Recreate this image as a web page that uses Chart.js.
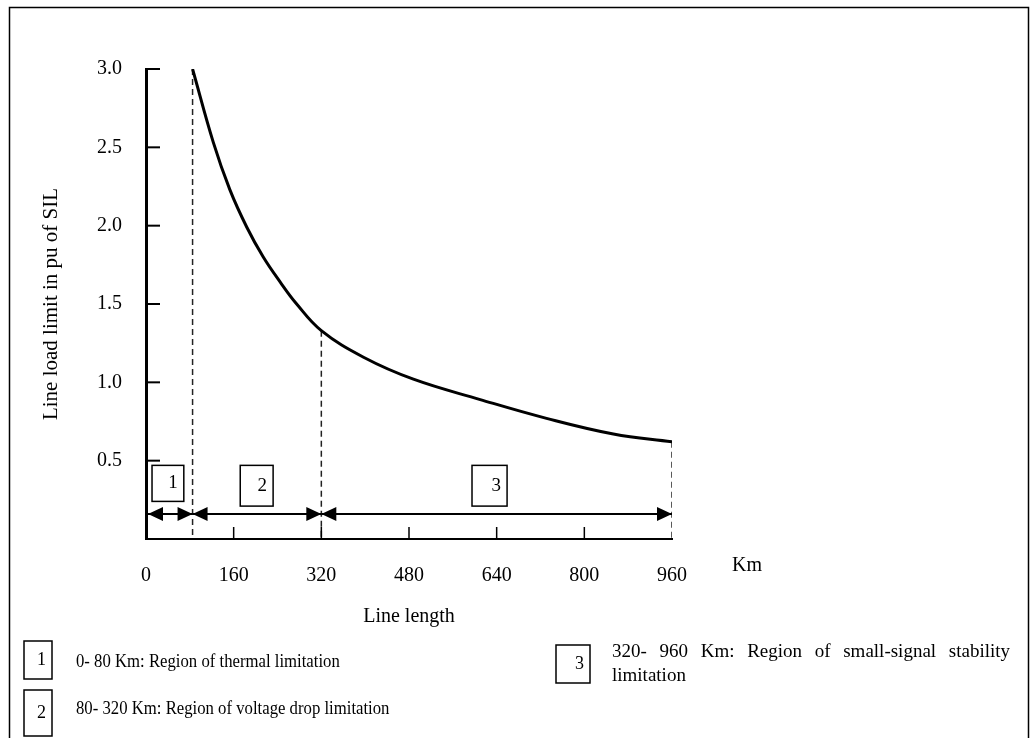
<!DOCTYPE html>
<html>
<head>
<meta charset="utf-8">
<script src="https://cdn.jsdelivr.net/npm/chart.js@4.4.0/dist/chart.umd.min.js"></script>
<style>
  html, body { margin: 0; padding: 0; background: #fff; }
</style>
</head>
<body>
<canvas id="c" width="1030" height="738"></canvas>
<script>
// values
const lengthKm = [85, 123, 153, 184, 214, 245, 275, 320, 397, 488, 610, 731, 853, 960];
const loadLimit = [3.0, 2.53, 2.23, 1.99, 1.80, 1.64, 1.50, 1.33, 1.16, 1.02, 0.89, 0.77, 0.67, 0.62];
const xTicks = [0, 160, 320, 480, 640, 800, 960];
const yTicks = [0.5, 1.0, 1.5, 2.0, 2.5, 3.0];
const regionBounds = [0, 85, 320, 960];
const regionIds = ["1", "2", "3"];
const regionText = [
  ["0- 80 Km: Region of thermal limitation"],
  ["80- 320 Km: Region of voltage drop limitation"],
  ["320- 960 Km: Region of small-signal stability", "limitation"],
];

const serif = "'Liberation Serif', 'Times New Roman', serif";

// dashed drop lines at the region boundaries, down from the curve
const dropLines = regionBounds.slice(1).map(b => {
  const i = lengthKm.indexOf(b);
  return {
    data: [{ x: b, y: loadLimit[i] }, { x: b, y: 0 }],
    borderColor: "#222",
    borderWidth: 1.5,
    borderDash: [6, 4],
    pointRadius: 0,
    tension: 0,
    fill: false,
  };
});

// where the annotation boxes sit (km / pu)
const boxSpots = [
  { x0: 11, x1: 69, y0: 0.24, y1: 0.47 },
  { x0: 172, x1: 232, y0: 0.21, y1: 0.47 },
  { x0: 595, x1: 659, y0: 0.21, y1: 0.47 },
];

function arrowHead(ctx, tipX, tipY, dir) {
  ctx.beginPath();
  ctx.moveTo(tipX, tipY);
  ctx.lineTo(tipX - dir * 15, tipY - 7);
  ctx.lineTo(tipX - dir * 15, tipY + 7);
  ctx.closePath();
  ctx.fill();
}

function numBox(ctx, l, t, r, b, txt, size) {
  ctx.lineWidth = 1.5;
  ctx.strokeRect(l, t, r - l, b - t);
  ctx.font = size + "px " + serif;
  ctx.textAlign = "right";
  ctx.textBaseline = "middle";
  ctx.fillText(txt, r - 6, (t + b) / 2);
}

// narrow text, the key in the figure is set a bit condensed
function squeezed(ctx, txt, x0, yy, k) {
  ctx.save();
  ctx.translate(x0, yy);
  ctx.scale(k, 1);
  ctx.fillText(txt, 0, 0);
  ctx.restore();
}

// spread the words of a line so it fills the given width
function justified(ctx, txt, x0, yy, width) {
  const words = txt.split(" ");
  const used = words.reduce((s, w) => s + ctx.measureText(w).width, 0);
  const gap = (width - used) / (words.length - 1);
  let cx = x0;
  words.forEach(w => {
    ctx.fillText(w, cx, yy);
    cx += ctx.measureText(w).width + gap;
  });
}

const extras = {
  id: "extras",
  afterDraw(chart) {
    const { ctx, scales: { x, y } } = chart;
    ctx.save();
    ctx.strokeStyle = "#000";
    ctx.fillStyle = "#000";

    // inward ticks on the y axis
    ctx.lineWidth = 2;
    yTicks.forEach(v => {
      const py = y.getPixelForValue(v);
      ctx.beginPath();
      ctx.moveTo(x.left, py);
      ctx.lineTo(x.left + 14, py);
      ctx.stroke();
    });
    // upward ticks on the x axis
    ctx.lineWidth = 1.5;
    xTicks.slice(1, -1).forEach(v => {
      const px = x.getPixelForValue(v);
      ctx.beginPath();
      ctx.moveTo(px, y.bottom);
      ctx.lineTo(px, y.bottom - 12);
      ctx.stroke();
    });

    // double arrows for the three regions
    const ay = y.getPixelForValue(0.16);
    ctx.lineWidth = 2;
    for (let i = 0; i < 3; i++) {
      const a = x.getPixelForValue(regionBounds[i]) + (i === 0 ? 2 : 0);
      const b = x.getPixelForValue(regionBounds[i + 1]);
      ctx.beginPath();
      ctx.moveTo(a, ay);
      ctx.lineTo(b, ay);
      ctx.stroke();
      arrowHead(ctx, a, ay, -1);
      arrowHead(ctx, b, ay, 1);
    }

    // numbered boxes above the arrows
    boxSpots.forEach((s, i) => {
      numBox(ctx, x.getPixelForValue(s.x0), y.getPixelForValue(s.y1),
        x.getPixelForValue(s.x1), y.getPixelForValue(s.y0), regionIds[i], 19);
    });

    // unit next to the x axis
    ctx.font = "20px " + serif;
    ctx.textAlign = "center";
    ctx.textBaseline = "middle";
    ctx.fillText("Km", x.right + 75, y.bottom + 27);

    // key under the chart
    numBox(ctx, 24, 641, 52, 679, regionIds[0], 18);
    numBox(ctx, 24, 690, 52, 736, regionIds[1], 18);
    numBox(ctx, 556, 645, 590, 683, regionIds[2], 18);
    ctx.font = "19px " + serif;
    ctx.textAlign = "left";
    ctx.textBaseline = "middle";
    squeezed(ctx, regionText[0][0], 76, 662, 0.88);
    squeezed(ctx, regionText[1][0], 76, 709, 0.88);
    justified(ctx, regionText[2][0], 612, 652, 398);
    ctx.fillText(regionText[2][1], 612, 676);

    // frame around the figure
    ctx.lineWidth = 1.5;
    ctx.strokeRect(9.5, 7.5, 1019, 740);
    ctx.restore();
  },
};

new Chart(document.getElementById("c").getContext("2d"), {
  type: "line",
  data: {
    datasets: [
      {
        data: lengthKm.map((v, i) => ({ x: v, y: loadLimit[i] })),
        borderColor: "#000",
        borderWidth: 3,
        pointRadius: 0,
        tension: 0.4,
        fill: false,
      },
      ...dropLines,
    ],
  },
  options: {
    responsive: false,
    animation: false,
    devicePixelRatio: 1,
    layout: { padding: { left: 9, top: 69, right: 358, bottom: 109 } },
    plugins: { legend: { display: false }, tooltip: { enabled: false } },
    scales: {
      x: {
        type: "linear",
        min: 0,
        max: 960,
        afterBuildTicks: s => { s.ticks = xTicks.map(v => ({ value: v })); },
        afterFit: s => { s.height = 90; },
        ticks: { color: "#000", padding: 25, maxRotation: 0, font: { family: serif, size: 20 } },
        grid: { display: false, drawTicks: false },
        border: { display: true, color: "#000", width: 2 },
        title: { display: true, text: "Line length", color: "#000", padding: { top: 0, bottom: 0 }, font: { family: serif, size: 20 } },
      },
      y: {
        type: "linear",
        min: 0,
        max: 3,
        afterBuildTicks: s => { s.ticks = yTicks.map(v => ({ value: v })); },
        afterFit: s => { s.width = 137; },
        ticks: { color: "#000", padding: 24, callback: v => v.toFixed(1), font: { family: serif, size: 20 } },
        grid: { display: false, drawTicks: false },
        border: { display: true, color: "#000", width: 3 },
        title: { display: true, text: "Line load limit in pu of SIL", color: "#000", padding: { top: 30, bottom: 0 }, font: { family: serif, size: 21 } },
      },
    },
  },
  plugins: [extras],
});
</script>
</body>
</html>
